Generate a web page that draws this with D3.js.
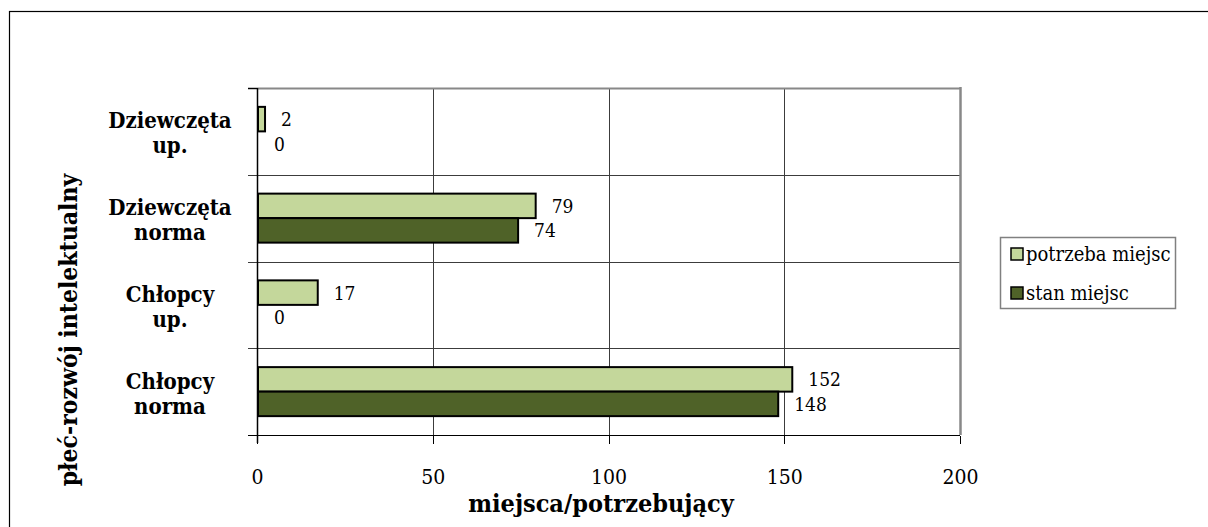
<!DOCTYPE html>
<html>
<meta charset="utf-8">
<head>
<title>miejsca/potrzebujący</title>
<style>
  body { margin: 0; background: #fff; }
  svg text { font-family: "DejaVu Serif Condensed", "DejaVu Serif", serif; font-stretch: condensed; fill: #000; }
  .axis path, .axis line { stroke: #000; shape-rendering: crispEdges; }
</style>
</head>
<body>
<script src="https://d3js.org/d3.v7.min.js"></script>
<script>

// data
var categories = ["Dziewczęta\nup.", "Dziewczęta\nnorma", "Chłopcy\nup.", "Chłopcy\nnorma"];
var potrzeba = [2, 79, 17, 152];   // potrzeba miejsc
var stan = [0, 74, 0, 148];        // stan miejsc
var seriesNames = ["potrzeba miejsc", "stan miejsc"];
var seriesColors = ["#c4d79b", "#4f6228"];
var xTicks = [0, 50, 100, 150, 200];

var W = 1208, H = 527;
var plot = {left: 257, right: 960, top: 88, bottom: 435};

var svg = d3.select("body").append("svg")
    .attr("width", W)
    .attr("height", H);

// outer frame
svg.append("rect")
    .attr("x", 9.5).attr("y", 11.5)
    .attr("width", W + 20).attr("height", H + 20)
    .attr("fill", "none").attr("stroke", "#000").attr("stroke-width", 1.2);

var x = d3.scaleLinear().domain([0, 200]).range([plot.left, plot.right]);
var y = d3.scaleBand().domain(categories).range([plot.top, plot.bottom]).padding(0);
var ySub = d3.scaleBand().domain(seriesNames).range([0, y.bandwidth()])
    .paddingInner(0).paddingOuter(0.77);

// vertical gridlines
svg.append("g").selectAll("line")
    .data(xTicks.slice(1, -1))
    .enter().append("line")
    .attr("x1", function(d) { return Math.round(x(d)) + 0.5; })
    .attr("x2", function(d) { return Math.round(x(d)) + 0.5; })
    .attr("y1", plot.top).attr("y2", plot.bottom)
    .attr("stroke", "#3c3c3c");

// horizontal category boundary lines (with tick stubs left of the axis)
var bounds = categories.map(function(c) { return y(c); });
svg.append("g").selectAll("line")
    .data(bounds)
    .enter().append("line")
    .attr("x1", plot.left - 9).attr("x2", plot.right)
    .attr("y1", function(d) { return Math.round(d) + 0.5; })
    .attr("y2", function(d) { return Math.round(d) + 0.5; })
    .attr("stroke", function(d, i) { return i == 0 ? "#888" : "#3c3c3c"; })
    .attr("stroke-width", function(d, i) { return i == 0 ? 2 : 1; });
svg.append("line")
    .attr("x1", plot.left - 9).attr("x2", plot.left)
    .attr("y1", Math.round(plot.top) + 0.5).attr("y2", Math.round(plot.top) + 0.5)
    .attr("stroke", "#000");

// right border of plot area
svg.append("line")
    .attr("x1", plot.right + 0.5).attr("x2", plot.right + 0.5)
    .attr("y1", plot.top - 1).attr("y2", plot.bottom)
    .attr("stroke", "#888").attr("stroke-width", 2.5);

// x axis
var xAxis = d3.axisBottom(x).tickValues(xTicks).tickSize(8).tickSizeOuter(0).tickPadding(26);
var gx = svg.append("g")
    .attr("class", "axis")
    .attr("transform", "translate(0," + (plot.bottom + 0.5) + ")")
    .call(xAxis);
gx.select(".domain").attr("d", "M" + (plot.left - 9) + ",0H" + plot.right);
gx.selectAll("text")
    .style("font-size", "21px")
    .style("font-family", "'DejaVu Serif Condensed', 'DejaVu Serif', serif");

// y axis line
svg.append("line")
    .attr("x1", plot.left + 0.5).attr("x2", plot.left + 0.5)
    .attr("y1", plot.top).attr("y2", plot.bottom + 8)
    .attr("stroke", "#000").attr("stroke-width", 1.5);

// bars
var rows = categories.map(function(c, i) {
  return [{cat: c, s: seriesNames[0], v: potrzeba[i], col: seriesColors[0]},
          {cat: c, s: seriesNames[1], v: stan[i], col: seriesColors[1]}];
});
var flat = [].concat.apply([], rows);

svg.append("g").selectAll("rect")
    .data(flat.filter(function(d) { return d.v > 0; }))
    .enter().append("rect")
    .attr("x", x(0) + 1)
    .attr("y", function(d) { return y(d.cat) + ySub(d.s); })
    .attr("width", function(d) { return x(d.v) - x(0); })
    .attr("height", ySub.bandwidth())
    .attr("fill", function(d) { return d.col; })
    .attr("stroke", "#000")
    .attr("stroke-width", 2);

// value labels
svg.append("g").selectAll("text")
    .data(flat)
    .enter().append("text")
    .attr("x", function(d) { return x(d.v) + 17; })
    .attr("y", function(d) { return y(d.cat) + ySub(d.s) + ySub.bandwidth() / 2 + 2; })
    .attr("dominant-baseline", "middle")
    .style("font-size", "19px")
    .text(function(d) { return d.v; });

// category labels
var catLabels = svg.append("g").selectAll("text")
    .data(categories)
    .enter().append("text")
    .attr("text-anchor", "middle")
    .attr("x", 170)
    .attr("y", function(d) { return y(d) + y.bandwidth() / 2 - 3; })
    .style("font-size", "22px")
    .style("font-weight", "bold");
catLabels.selectAll("tspan")
    .data(function(d) { return d.split("\n"); })
    .enter().append("tspan")
    .attr("x", 170)
    .attr("dy", function(d, i) { return i == 0 ? 0 : 25; })
    .text(function(d) { return d; });

// axis titles
svg.append("text")
    .attr("x", 601).attr("y", 512)
    .attr("text-anchor", "middle")
    .style("font-size", "25px")
    .style("font-weight", "bold")
    .text("miejsca/potrzebujący");

svg.append("text")
    .attr("transform", "translate(77,330) rotate(-90)")
    .attr("text-anchor", "middle")
    .style("font-size", "24.5px")
    .style("font-weight", "bold")
    .text("płeć-rozwój intelektualny");

// legend
var legend = svg.append("g").attr("transform", "translate(1000,237)");
legend.append("rect")
    .attr("x", 0.5).attr("y", 0.5)
    .attr("width", 175).attr("height", 71)
    .attr("fill", "#fff").attr("stroke", "#808080").attr("stroke-width", 1.5);
var li = legend.selectAll(".li")
    .data(seriesNames)
    .enter().append("g")
    .attr("transform", function(d, i) { return "translate(11," + (11 + i * 39) + ")"; });
li.append("rect")
    .attr("width", 12).attr("height", 12)
    .attr("fill", function(d, i) { return seriesColors[i]; })
    .attr("stroke", "#000").attr("stroke-width", 1.5);
li.append("text")
    .attr("x", 15).attr("y", 13)
    .style("font-size", "20px")
    .text(function(d) { return d; });

</script>
</body>
</html>
